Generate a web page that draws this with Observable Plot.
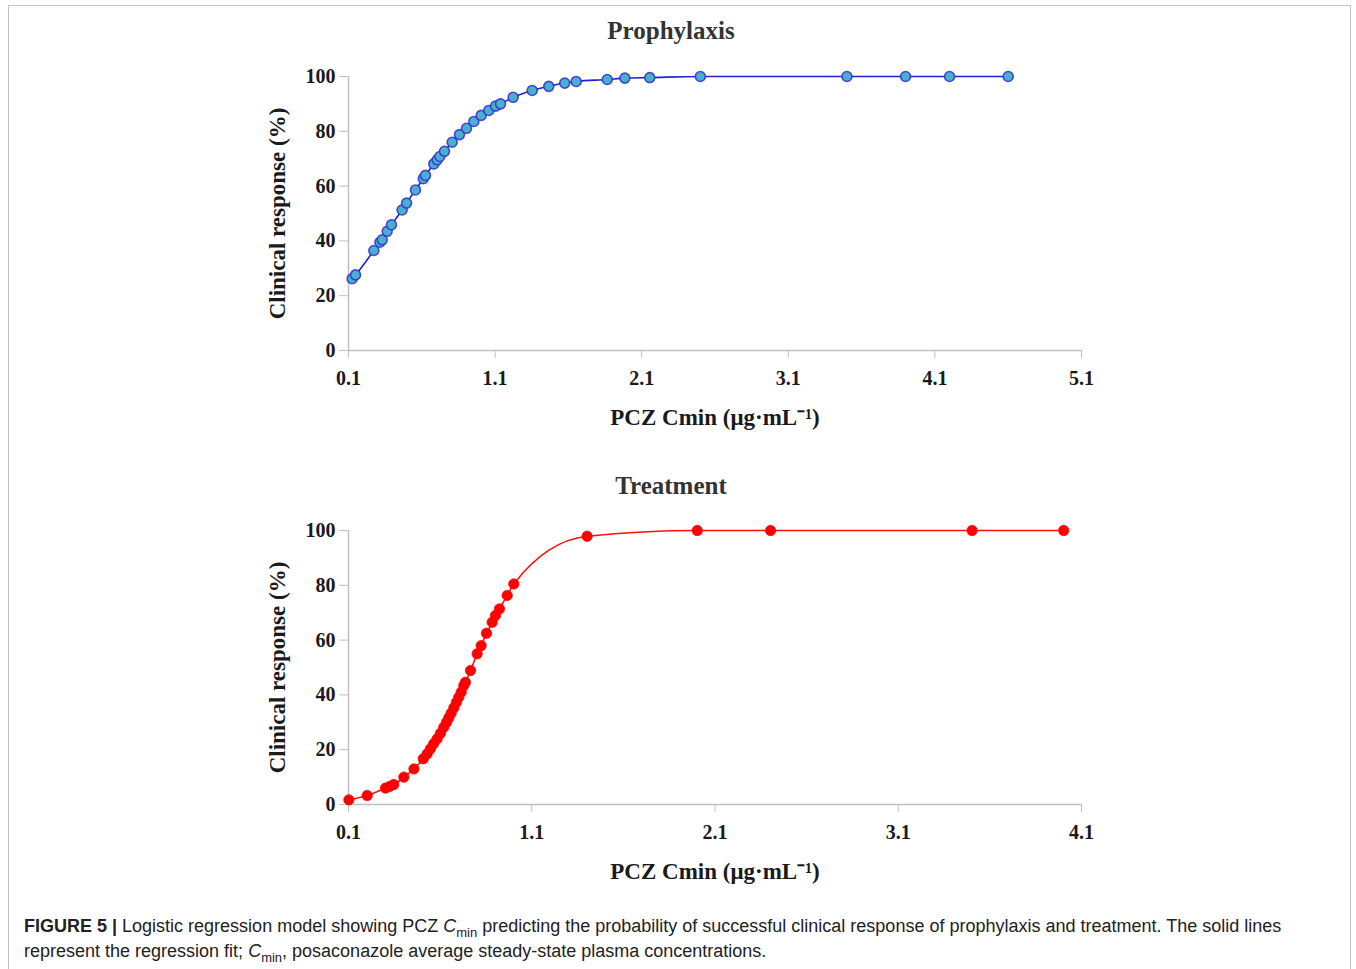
<!DOCTYPE html>
<html><head><meta charset="utf-8">
<script src="https://cdn.jsdelivr.net/npm/d3@7"></script>
<script src="https://cdn.jsdelivr.net/npm/@observablehq/plot@0.6"></script>
<style>
body{margin:0;background:#fff;overflow:hidden}
#fig{position:relative;width:1356px;height:969px}
.border{position:absolute;left:8px;top:5px;width:1343px;height:990px;border:1px solid #c4c4c4;box-sizing:border-box}
.title{position:absolute;font-family:"Liberation Serif",serif;font-weight:bold;font-size:25px;color:#333;transform:translateX(-50%);white-space:nowrap;line-height:1}
.plot{position:absolute;left:0}
.caption{position:absolute;left:24px;top:914px;font-family:"Liberation Sans",Arial,sans-serif;font-size:18px;color:#222;line-height:25px;width:1320px;white-space:nowrap}
.caption sub{font-size:13px;vertical-align:sub;line-height:1}
</style>
</head><body>
<div id="fig">
<div class="border"></div>
<div class="title" style="left:671px;top:18px">Prophylaxis</div>
<div class="title" style="left:671px;top:473px">Treatment</div>
<div id="p1" class="plot" style="top:0px"></div>
<div id="p2" class="plot" style="top:454px"></div>
<div class="caption"><b>FIGURE 5 |</b> Logistic regression model showing PCZ <i>C</i><sub>min</sub> predicting the probability of successful clinical response of prophylaxis and treatment. The solid lines<br>represent the regression fit; <i>C</i><sub>min</sub>, posaconazole average steady-state plasma concentrations.</div>
</div>
<script>
// Prophylaxis
const prophX = [0.125,0.148,0.273,0.314,0.33,0.364,0.393,0.466,0.496,0.557,0.61,0.625,0.682,0.705,0.723,0.755,0.807,0.857,0.905,0.955,1.005,1.057,1.103,1.137,1.223,1.353,1.466,1.575,1.653,1.865,1.985,2.155,2.50,3.50,3.90,4.20,4.60];
const prophY = [26.2,27.6,36.5,39.5,40.4,43.5,45.9,51.3,53.8,58.6,62.7,63.9,68.1,69.6,70.8,72.7,76.0,78.8,81.1,83.6,85.8,87.6,89.2,90.0,92.4,94.9,96.4,97.6,98.2,98.9,99.4,99.6,100,100,100,100,100];
// Treatment
const treatX = [0.102,0.202,0.302,0.325,0.347,0.402,0.457,0.508,0.529,0.547,0.565,0.584,0.602,0.620,0.635,0.647,0.660,0.675,0.689,0.702,0.715,0.729,0.738,0.766,0.802,0.824,0.853,0.884,0.902,0.924,0.966,1.002,1.402,2.003,2.403,3.503,4.003];
const treatY = [1.7,3.3,6.0,6.6,7.3,10.0,13.0,16.7,18.5,20.3,22.2,24.0,26.0,28.2,30.0,31.6,33.3,35.3,37.3,39.2,41.0,43.4,44.6,48.9,55.0,58.0,62.5,66.5,69,71.4,76.3,80.5,97.9,100,100,100,100];
const xTicksTop = [0.1,1.1,2.1,3.1,4.1,5.1];
const xTicksBottom = [0.1,1.1,2.1,3.1,4.1];
const yTicks = [0,20,40,60,80,100];
const xLabel = "PCZ Cmin (μg·mL⁻¹)";
const yLabel = "Clinical response (%)";

function makePlot(xs, ys, xTicks, opts) {
  const data = xs.map((x, i) => ({x, y: ys[i]}));
  const x0 = xTicks[0], x1 = xTicks[xTicks.length - 1];
  return Plot.plot({
    width: 1356,
    height: 440,
    marginLeft: 348,
    marginRight: 275,
    marginTop: 76,
    marginBottom: 90,
    style: {fontFamily: "Liberation Serif, serif", fontWeight: "bold", fontSize: "20px", color: "#1a1a1a", background: "transparent"},
    x: {domain: [x0, x1]},
    y: {domain: [0, 100]},
    marks: [
      Plot.ruleY([0], {x1: x0, x2: x1, stroke: "#c0c0c0", strokeWidth: 1.5}),
      Plot.ruleX([x0], {y1: 0, y2: 100, stroke: "#c0c0c0", strokeWidth: 1.5}),
      Plot.axisX({ticks: xTicks, tickFormat: d => d.toFixed(1), tickSize: 8, tickPadding: 12, stroke: "#c0c0c0", fill: "#1a1a1a",
        label: xLabel, labelAnchor: "center", labelArrow: "none", labelOffset: 74, fontSize: 20}),
      Plot.axisY({ticks: yTicks, tickSize: 9, tickPadding: 4, stroke: "#c0c0c0", fill: "#1a1a1a",
        label: yLabel, labelAnchor: "center", labelArrow: "none", labelOffset: 80, fontSize: 20}),
      Plot.line(data, {x: "x", y: "y", stroke: opts.line, strokeWidth: 1.6, curve: "monotone-x"}),
      Plot.dot(data, {x: "x", y: "y", r: opts.r, fill: opts.fill, stroke: opts.stroke, strokeWidth: opts.sw, strokeOpacity: 0.85})
    ]
  });
}

const p1 = makePlot(prophX, prophY, xTicksTop, {line: "#2222cc", fill: "#4aaed0", stroke: "#3030cc", r: 5, sw: 1.6});
const p2 = makePlot(treatX, treatY, xTicksBottom, {line: "#ff1010", fill: "#ff0000", stroke: "#ff0000", r: 5.2, sw: 0.8});
document.getElementById("p1").appendChild(p1);
document.getElementById("p2").appendChild(p2);
// enlarge axis labels
for (const svg of [p1, p2]) {
  svg.querySelectorAll("g[aria-label='x-axis label'] text, g[aria-label='y-axis label'] text").forEach(t => {
    t.setAttribute("font-size", "23");
  });
}
</script>
</body></html>
